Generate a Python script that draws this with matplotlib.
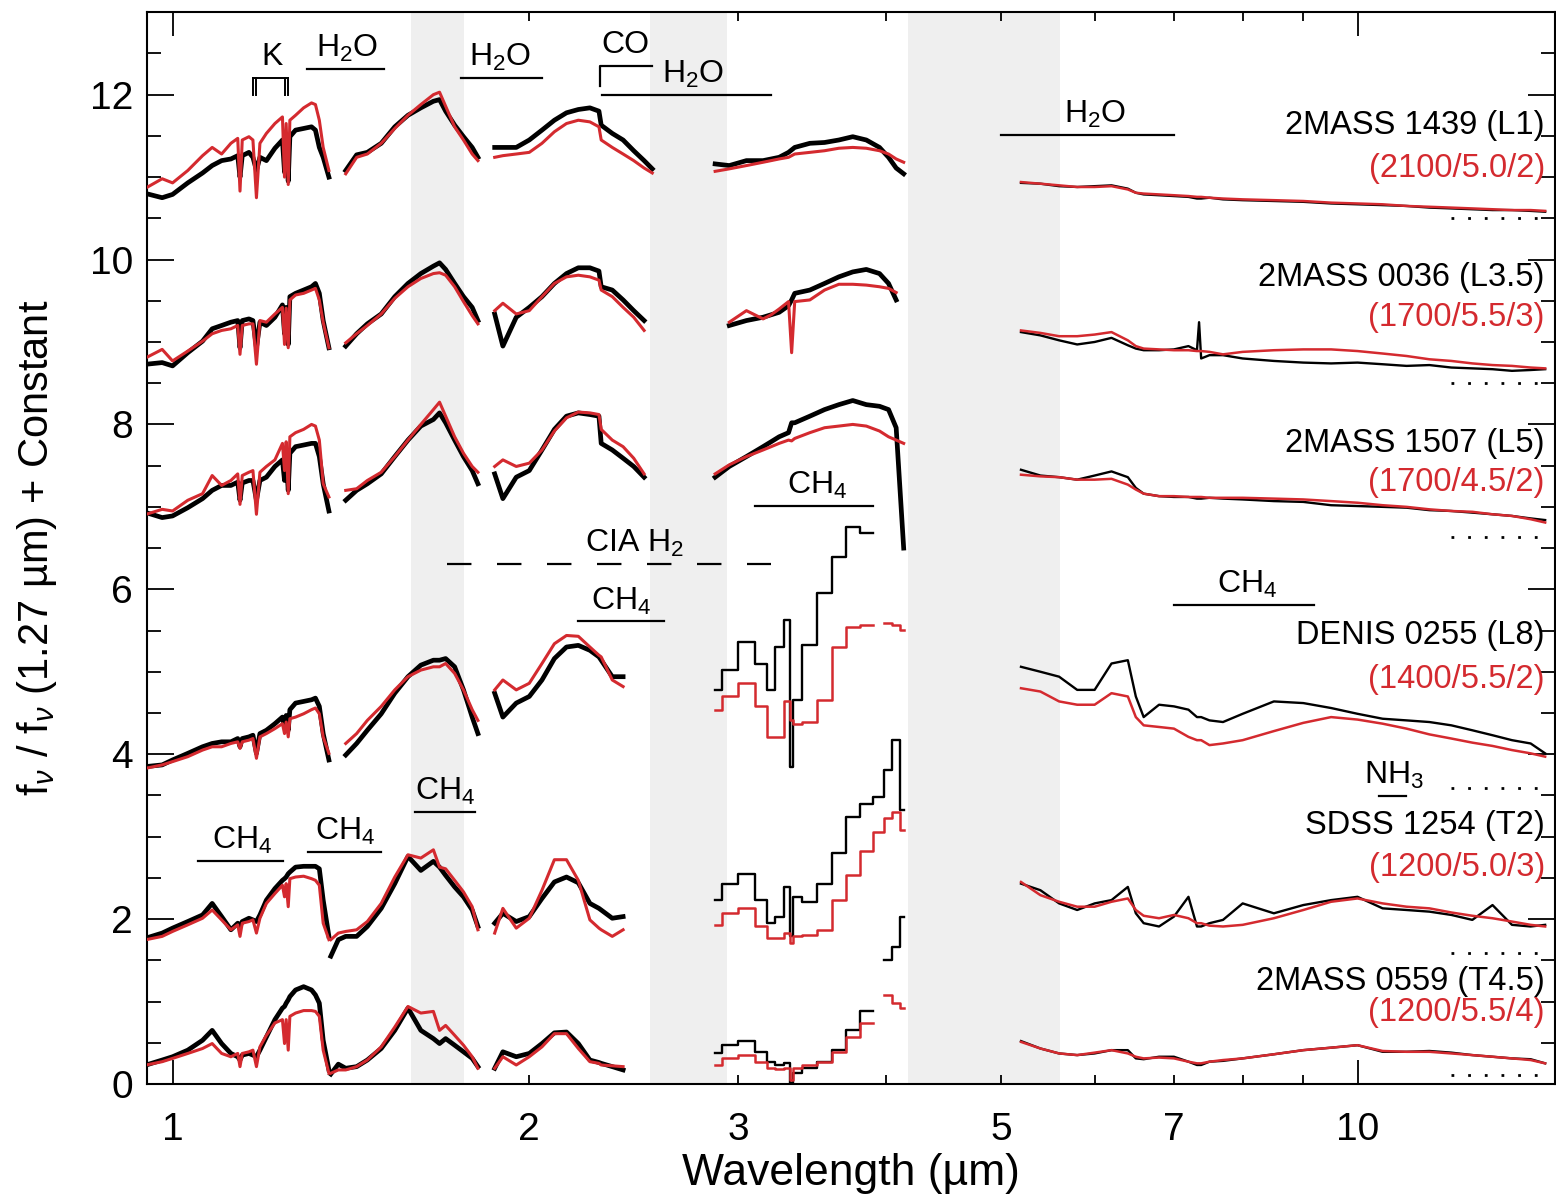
import numpy as np
import matplotlib
matplotlib.use("Agg")
import matplotlib.pyplot as plt
from matplotlib.ticker import FixedLocator, FixedFormatter, MultipleLocator

plt.rcParams['font.family'] = ['Liberation Sans', 'DejaVu Sans']
plt.rcParams['mathtext.fontset'] = 'custom'
plt.rcParams['mathtext.rm'] = 'Liberation Sans'
plt.rcParams['mathtext.it'] = 'Liberation Sans:italic'
plt.rcParams['mathtext.bf'] = 'Liberation Sans:bold'

nan = np.nan
RED = '#d42a2f'

# wavelength grids (micron) of the five pieces of each spectrum
wave_zj = [0.95, 0.98, 1.00, 1.03, 1.06, 1.08, 1.10, 1.12, 1.135, 1.140, 1.145, 1.16, 1.169, 1.177, 1.185,
           1.20, 1.22, 1.238, 1.243, 1.247, 1.252, 1.256, 1.27, 1.29, 1.31, 1.32, 1.33, 1.34, 1.355]
wave_h = [1.36, 1.38, 1.40, 1.43, 1.46, 1.50, 1.54, 1.58, 1.62, 1.66, 1.68, 1.70, 1.73, 1.76, 1.79, 1.81]
wave_k = [1.87, 1.90, 1.95, 2.00, 2.05, 2.10, 2.15, 2.20, 2.25, 2.29, 2.30, 2.35, 2.40, 2.45, 2.50, 2.54]
wave_l = [2.87, 2.95, 3.05, 3.15, 3.20, 3.25, 3.31, 3.33, 3.35, 3.45, 3.55, 3.65, 3.75, 3.85, 3.95, 4.02, 4.08, 4.14]
wave_mir = [5.2, 5.4, 5.6, 5.8, 6.0, 6.2, 6.4, 6.5, 6.6, 6.8, 7.0, 7.2, 7.32, 7.35, 7.38, 7.5, 7.7, 8.0, 8.5,
            9.0, 9.5, 10.0, 10.5, 11.0, 11.5, 12.0, 12.5, 13.0, 13.5, 14.0, 14.4]

# 2MASS 1439 (L1)
l1_obs_zj = [10.80, 10.75, 10.79, 10.93, 11.05, 11.14, 11.20, 11.22, 11.26, 11.00, 11.26, 11.30, 11.24, 11.08, 11.24,
             11.20, 11.35, 11.45, 11.06, 11.41, 10.95, 11.49, 11.57, 11.59, 11.61, 11.57, 11.36, 11.24, 11.00]
l1_mod_zj = [10.87, 10.98, 10.93, 11.08, 11.26, 11.36, 11.28, 11.41, 11.47, 10.83, 11.45, 11.49, 11.45, 10.75, 11.41,
             11.53, 11.65, 11.73, 11.00, 11.65, 10.91, 11.69, 11.75, 11.84, 11.90, 11.88, 11.69, 11.36, 11.08]
l1_obs_h = [nan, nan, 11.08, 11.27, 11.30, 11.41, 11.61, 11.75, 11.84, 11.92, 11.94, 11.80, 11.63, 11.49, 11.36, 11.24]
l1_mod_h = [nan, nan, 11.04, 11.24, 11.28, 11.41, 11.59, 11.75, 11.88, 12.00, 12.03, 11.86, 11.61, 11.45, 11.28, 11.20]
l1_obs_k = [11.36, 11.36, 11.36, 11.45, 11.57, 11.69, 11.78, 11.82, 11.84, 11.80, 11.63, 11.53, 11.45, 11.32, 11.20, 11.10]
l1_mod_k = [11.24, 11.26, 11.28, 11.30, 11.41, 11.55, 11.65, 11.69, 11.67, 11.61, 11.45, 11.36, 11.28, 11.20, 11.11, 11.05]
l1_obs_l = [11.16, 11.14, 11.20, 11.20, 11.22, 11.24, 11.30, 11.33, 11.36, 11.41, 11.42, 11.45, 11.49, 11.45, 11.36,
            11.24, 11.11, 11.04]
l1_mod_l = [11.07, 11.10, 11.14, 11.18, 11.20, 11.22, 11.24, 11.26, 11.28, 11.30, 11.32, 11.35, 11.36, 11.35, 11.32,
            11.28, 11.22, 11.18]
l1_obs_mir = [10.93, 10.92, 10.89, 10.88, 10.89, 10.90, 10.86, 10.81, 10.79, 10.78, 10.77, 10.76, 10.74, 10.74, 10.74,
              10.75, 10.73, 10.72, 10.71, 10.70, 10.68, 10.67, 10.66, 10.65, 10.63, 10.62, 10.61, 10.60, 10.60,
              10.59, 10.58]
l1_mod_mir = [10.94, 10.92, 10.90, 10.88, 10.88, 10.89, 10.85, 10.81, 10.80, 10.79, 10.78, 10.77, 10.76, 10.76, 10.76,
              10.75, 10.74, 10.73, 10.72, 10.71, 10.69, 10.68, 10.67, 10.65, 10.64, 10.63, 10.62, 10.61, 10.60,
              10.60, 10.59]

# 2MASS 0036 (L3.5)
l35_obs_zj = [8.73, 8.75, 8.71, 8.87, 9.01, 9.16, 9.20, 9.24, 9.26, 8.93, 9.26, 9.28, 9.26, 8.93, 9.24,
              9.20, 9.30, 9.45, 9.10, 9.42, 8.97, 9.55, 9.59, 9.63, 9.67, 9.71, 9.59, 9.26, 8.93]
l35_mod_zj = [8.81, 8.91, 8.77, 8.89, 9.01, 9.10, 9.14, 9.16, 9.20, 8.85, 9.20, 9.22, 9.22, 8.73, 9.26,
              9.24, 9.34, 9.42, 8.97, 9.41, 8.93, 9.51, 9.57, 9.59, 9.63, 9.65, 9.51, 9.24, 8.93]
l35_obs_h = [nan, nan, 8.95, 9.10, 9.22, 9.34, 9.55, 9.71, 9.83, 9.92, 9.96, 9.88, 9.71, 9.55, 9.42, 9.26]
l35_mod_h = [nan, nan, 8.99, 9.10, 9.20, 9.34, 9.53, 9.67, 9.77, 9.83, 9.84, 9.81, 9.67, 9.49, 9.32, 9.22]
l35_obs_k = [9.34, 8.95, 9.30, 9.42, 9.55, 9.71, 9.83, 9.90, 9.90, 9.86, 9.67, 9.63, 9.51, 9.38, 9.26, nan]
l35_mod_k = [9.38, 9.47, 9.34, 9.38, 9.55, 9.71, 9.79, 9.81, 9.79, 9.75, 9.63, 9.55, 9.42, 9.30, 9.14, nan]
l35_obs_l = [nan, 9.20, 9.26, 9.30, 9.33, 9.36, 9.44, 9.51, 9.59, 9.63, 9.71, 9.79, 9.85, 9.88, 9.83, 9.71, 9.51, nan]
l35_mod_l = [nan, 9.24, 9.38, 9.28, 9.33, 9.40, 9.49, 8.87, 9.49, 9.51, 9.63, 9.70, 9.70, 9.69, 9.67, 9.65, 9.60, nan]
l35_obs_mir = [9.12, 9.08, 9.02, 8.97, 9.00, 9.05, 8.96, 8.92, 8.90, 8.90, 8.91, 8.95, 8.90, 9.24, 8.80,
               8.84, 8.84, 8.80, 8.77, 8.75, 8.74, 8.75, 8.73, 8.71, 8.72, 8.69, 8.68, 8.67, 8.65, 8.66, 8.67]
l35_mod_mir = [9.14, 9.11, 9.07, 9.07, 9.09, 9.12, 9.02, 8.95, 8.92, 8.91, 8.90, 8.90, 8.89, 8.89, 8.89,
               8.88, 8.85, 8.88, 8.90, 8.91, 8.91, 8.89, 8.86, 8.83, 8.79, 8.77, 8.74, 8.72, 8.71, 8.69, 8.68]

# 2MASS 1507 (L5)
l5_obs_zj = [6.93, 6.87, 6.89, 6.99, 7.10, 7.20, 7.26, 7.26, 7.30, 7.08, 7.29, 7.32, 7.32, 7.08, 7.32,
             7.36, 7.49, 7.57, 7.32, 7.59, 7.20, 7.65, 7.73, 7.75, 7.77, 7.77, 7.61, 7.28, 6.95]
l5_mod_zj = [6.91, 6.97, 6.95, 7.08, 7.16, 7.38, 7.26, 7.32, 7.40, 7.03, 7.38, 7.42, 7.44, 6.91, 7.42,
             7.49, 7.57, 7.77, 7.44, 7.79, 7.16, 7.85, 7.90, 7.94, 8.00, 7.98, 7.81, 7.28, 7.12]
l5_obs_h = [nan, nan, 7.08, 7.20, 7.28, 7.40, 7.61, 7.81, 7.98, 8.06, 8.14, 8.02, 7.81, 7.61, 7.44, 7.28]
l5_mod_h = [nan, nan, 7.20, 7.22, 7.32, 7.42, 7.61, 7.81, 8.00, 8.18, 8.27, 8.10, 7.85, 7.65, 7.49, 7.42]
l5_obs_k = [7.40, 7.10, 7.36, 7.44, 7.69, 7.94, 8.10, 8.14, 8.12, 8.10, 7.77, 7.69, 7.59, 7.49, 7.36, nan]
l5_mod_k = [7.49, 7.57, 7.49, 7.53, 7.69, 7.92, 8.08, 8.15, 8.14, 8.12, 7.94, 7.81, 7.73, 7.59, 7.40, nan]
l5_obs_l = [7.36, 7.49, 7.61, 7.73, 7.79, 7.85, 7.90, 8.02, 8.02, 8.10, 8.18, 8.24, 8.29, 8.24, 8.22, 8.18, 7.96, 6.50]
l5_mod_l = [7.40, 7.51, 7.61, 7.69, 7.73, 7.77, 7.81, 7.80, 7.83, 7.90, 7.96, 7.98, 8.00, 7.98, 7.92, 7.85, 7.81, 7.77]
l5_obs_mir = [7.45, 7.38, 7.36, 7.33, 7.38, 7.43, 7.36, 7.23, 7.16, 7.13, 7.12, 7.12, 7.10, 7.10, 7.10,
              7.11, 7.10, 7.09, 7.07, 7.06, 7.02, 7.01, 7.00, 6.99, 6.96, 6.95, 6.93, 6.91, 6.89, 6.86, 6.84]
l5_mod_mir = [7.39, 7.37, 7.36, 7.33, 7.33, 7.34, 7.27, 7.21, 7.16, 7.13, 7.13, 7.12, 7.12, 7.12, 7.12,
              7.11, 7.11, 7.11, 7.10, 7.09, 7.07, 7.05, 7.02, 7.00, 6.97, 6.95, 6.94, 6.91, 6.89, 6.85, 6.81]

# DENIS 0255 (L8)
l8_obs_zj = [3.85, 3.87, 3.93, 4.01, 4.09, 4.13, 4.15, 4.15, 4.19, 4.09, 4.19, 4.21, 4.23, 4.01, 4.25,
             4.29, 4.37, 4.45, 4.33, 4.47, 4.29, 4.54, 4.62, 4.64, 4.66, 4.68, 4.58, 4.25, 3.93]
l8_mod_zj = [3.83, 3.87, 3.91, 3.97, 4.05, 4.09, 4.09, 4.13, 4.15, 4.07, 4.15, 4.17, 4.19, 3.95, 4.21,
             4.25, 4.31, 4.37, 4.25, 4.39, 4.21, 4.43, 4.45, 4.49, 4.54, 4.56, 4.49, 4.21, 4.01]
l8_obs_h = [nan, nan, 3.99, 4.13, 4.29, 4.49, 4.74, 4.94, 5.08, 5.14, 5.14, 5.16, 5.06, 4.78, 4.45, 4.25]
l8_mod_h = [nan, nan, 4.13, 4.25, 4.41, 4.58, 4.78, 4.94, 5.02, 5.06, 5.06, 5.10, 4.98, 4.78, 4.54, 4.41]
l8_obs_k = [4.74, 4.45, 4.62, 4.70, 4.90, 5.16, 5.30, 5.32, 5.26, 5.18, 5.14, 4.94, 4.94, nan, nan, nan]
l8_mod_k = [4.78, 4.90, 4.78, 4.86, 5.10, 5.34, 5.44, 5.43, 5.30, 5.20, 5.18, 4.90, 4.82, nan, nan, nan]
l8_obs_l = [4.78, 5.02, 5.36, 5.10, 4.78, 5.30, 5.63, 3.85, 4.66, 5.32, 5.95, 6.39, 6.76, 6.68, nan, nan, nan, nan]
l8_mod_l = [4.54, 4.70, 4.86, 4.58, 4.21, 4.21, 4.64, 4.41, 4.37, 4.39, 4.66, 5.30, 5.54, 5.57, nan, 5.59, 5.57, 5.51]
l8_obs_mir = [5.06, 5.00, 4.94, 4.78, 4.78, 5.10, 5.14, 4.70, 4.45, 4.60, 4.58, 4.54, 4.45, 4.45, 4.45,
              4.41, 4.39, 4.49, 4.64, 4.62, 4.56, 4.49, 4.43, 4.41, 4.39, 4.35, 4.29, 4.23, 4.17, 4.13, 4.01]
l8_mod_mir = [4.80, 4.76, 4.64, 4.60, 4.60, 4.74, 4.70, 4.45, 4.35, 4.33, 4.31, 4.21, 4.17, 4.17, 4.17,
              4.11, 4.13, 4.17, 4.28, 4.38, 4.45, 4.42, 4.37, 4.31, 4.24, 4.19, 4.14, 4.10, 4.05, 4.01, 3.97]

# SDSS 1254 (T2)
t2_obs_zj = [1.77, 1.83, 1.89, 1.97, 2.05, 2.19, 2.03, 1.87, 1.95, 1.91, 1.97, 2.01, 1.99, 1.97, 2.05,
             2.23, 2.37, 2.47, 2.49, 2.51, 2.55, 2.57, 2.63, 2.64, 2.64, 2.64, 2.61, 2.23, 1.79]
t2_mod_zj = [1.75, 1.79, 1.85, 1.93, 2.01, 2.11, 1.99, 1.87, 1.93, 1.79, 1.95, 1.97, 1.99, 1.83, 2.01,
             2.19, 2.31, 2.41, 2.27, 2.43, 2.15, 2.49, 2.51, 2.52, 2.49, 2.47, 2.41, 1.95, 1.75]
t2_obs_h = [1.55, 1.75, 1.79, 1.79, 1.91, 2.13, 2.43, 2.76, 2.59, 2.70, 2.63, 2.53, 2.39, 2.27, 2.11, 1.91]
t2_mod_h = [1.75, 1.83, 1.85, 1.87, 1.97, 2.19, 2.51, 2.78, 2.74, 2.84, 2.63, 2.61, 2.47, 2.33, 2.15, 1.87]
t2_obs_k = [1.95, 2.07, 1.97, 2.03, 2.25, 2.45, 2.51, 2.44, 2.19, 2.13, 2.11, 2.01, 2.03, nan, nan, nan]
t2_mod_k = [1.83, 2.13, 1.89, 2.01, 2.35, 2.72, 2.72, 2.47, 1.99, 1.89, 1.87, 1.79, 1.87, nan, nan, nan]
t2_obs_l = [2.23, 2.43, 2.55, 2.23, 1.95, 2.03, 2.39, 1.79, 2.27, 2.21, 2.43, 2.80, 3.24, 3.40, 3.48, 3.81, 4.17, 3.32]
t2_mod_l = [1.93, 2.07, 2.13, 1.91, 1.77, 1.77, 1.83, 1.71, 1.79, 1.81, 1.87, 2.23, 2.53, 2.82, 3.06, 3.22, 3.30, 3.08]
t2_obs_mir = [2.43, 2.35, 2.19, 2.11, 2.19, 2.23, 2.39, 2.07, 1.95, 1.91, 2.03, 2.27, 1.91, 1.91, 1.91,
              1.95, 1.99, 2.19, 2.07, 2.17, 2.23, 2.27, 2.13, 2.11, 2.09, 2.05, 1.99, 2.17, 1.93, 1.91, 1.93]
t2_mod_mir = [2.45, 2.29, 2.21, 2.15, 2.15, 2.21, 2.25, 2.11, 2.04, 2.01, 2.05, 2.01, 1.95, 1.95, 1.95,
              1.92, 1.91, 1.93, 2.01, 2.11, 2.21, 2.25, 2.19, 2.15, 2.13, 2.08, 2.04, 2.01, 1.97, 1.93, 1.91]

# 2MASS 0559 (T4.5)
t45_obs_zj = [0.23, 0.29, 0.33, 0.41, 0.53, 0.65, 0.49, 0.37, 0.33, 0.29, 0.35, 0.37, 0.35, 0.33, 0.41,
              0.57, 0.78, 0.92, 0.94, 0.98, 1.02, 1.06, 1.14, 1.18, 1.14, 1.08, 0.98, 0.53, 0.17]
t45_mod_zj = [0.23, 0.27, 0.31, 0.37, 0.43, 0.49, 0.37, 0.33, 0.37, 0.21, 0.37, 0.39, 0.41, 0.21, 0.45,
              0.59, 0.74, 0.78, 0.49, 0.78, 0.41, 0.82, 0.86, 0.89, 0.89, 0.88, 0.82, 0.41, 0.13]
t45_obs_h = [0.12, 0.24, 0.19, 0.21, 0.29, 0.43, 0.65, 0.92, 0.65, 0.55, 0.49, 0.55, 0.47, 0.39, 0.31, 0.21]
t45_mod_h = [0.13, 0.17, 0.17, 0.21, 0.29, 0.45, 0.69, 0.94, 0.86, 0.88, 0.65, 0.71, 0.59, 0.47, 0.33, 0.19]
t45_obs_k = [0.19, 0.39, 0.33, 0.37, 0.49, 0.62, 0.63, 0.49, 0.29, 0.26, 0.25, 0.21, 0.17, nan, nan, nan]
t45_mod_k = [0.19, 0.33, 0.23, 0.33, 0.45, 0.61, 0.61, 0.43, 0.27, 0.25, 0.23, 0.22, 0.21, nan, nan, nan]
t45_obs_l = [0.37, 0.47, 0.52, 0.39, 0.27, 0.23, 0.25, 0.01, 0.13, 0.19, 0.27, 0.41, 0.65, 0.88, nan, 1.50, 1.66, 2.03]
t45_mod_l = [0.23, 0.31, 0.35, 0.27, 0.19, 0.18, 0.19, 0.05, 0.19, 0.23, 0.27, 0.39, 0.57, 0.74, nan, 1.08, 0.98, 0.92]
t45_obs_mir = [0.52, 0.43, 0.37, 0.35, 0.37, 0.41, 0.41, 0.31, 0.30, 0.33, 0.33, 0.27, 0.23, 0.23, 0.23,
               0.27, 0.28, 0.31, 0.36, 0.41, 0.44, 0.47, 0.39, 0.39, 0.40, 0.38, 0.35, 0.33, 0.31, 0.30, 0.25]
t45_mod_mir = [0.51, 0.43, 0.37, 0.35, 0.38, 0.41, 0.37, 0.33, 0.31, 0.32, 0.31, 0.27, 0.25, 0.25, 0.25,
               0.27, 0.29, 0.31, 0.36, 0.41, 0.44, 0.47, 0.40, 0.39, 0.39, 0.37, 0.35, 0.33, 0.31, 0.29, 0.25]

star_names = ['2MASS 1439 (L1)', '2MASS 0036 (L3.5)', '2MASS 1507 (L5)',
              'DENIS 0255 (L8)', 'SDSS 1254 (T2)', '2MASS 0559 (T4.5)']
model_params = ['(2100/5.0/2)', '(1700/5.5/3)', '(1700/4.5/2)',
                '(1400/5.5/2)', '(1200/5.0/3)', '(1200/5.5/4)']
zero_levels = [10.50, 8.50, 6.64, 3.59, 1.59, 0.11]

# (label, x0, x1, y) of the absorption band markers
band_marks = [('H$_2$O', 1.299, 1.508, 12.31), ('H$_2$O', 1.752, 2.05, 12.20),
              ('H$_2$O', 2.302, 3.198, 12.00), ('H$_2$O', 5.003, 7.0, 11.51),
              ('CH$_4$', 3.10, 3.90, 7.01), ('CH$_4$', 2.199, 2.598, 5.61),
              ('CH$_4$', 7.0, 9.19, 5.81), ('NH$_3$', 10.43, 10.99, 3.49),
              ('CH$_4$', 1.051, 1.24, 2.70), ('CH$_4$', 1.301, 1.499, 2.81),
              ('CH$_4$', 1.602, 1.80, 3.30)]
label_x = [1.404, 1.889, 2.749, 6.0, 3.50, 2.393, 8.07, 10.74, 1.145, 1.398, 1.698]
k_lines = [1.169, 1.177, 1.243, 1.252]
gaps = [(1.590, 1.762), (2.529, 2.937), (4.176, 5.61)]

obs = [[l1_obs_zj, l1_obs_h, l1_obs_k, l1_obs_l, l1_obs_mir],
       [l35_obs_zj, l35_obs_h, l35_obs_k, l35_obs_l, l35_obs_mir],
       [l5_obs_zj, l5_obs_h, l5_obs_k, l5_obs_l, l5_obs_mir],
       [l8_obs_zj, l8_obs_h, l8_obs_k, l8_obs_l, l8_obs_mir],
       [t2_obs_zj, t2_obs_h, t2_obs_k, t2_obs_l, t2_obs_mir],
       [t45_obs_zj, t45_obs_h, t45_obs_k, t45_obs_l, t45_obs_mir]]
mod = [[l1_mod_zj, l1_mod_h, l1_mod_k, l1_mod_l, l1_mod_mir],
       [l35_mod_zj, l35_mod_h, l35_mod_k, l35_mod_l, l35_mod_mir],
       [l5_mod_zj, l5_mod_h, l5_mod_k, l5_mod_l, l5_mod_mir],
       [l8_mod_zj, l8_mod_h, l8_mod_k, l8_mod_l, l8_mod_mir],
       [t2_mod_zj, t2_mod_h, t2_mod_k, t2_mod_l, t2_mod_mir],
       [t45_mod_zj, t45_mod_h, t45_mod_k, t45_mod_l, t45_mod_mir]]
grids = [wave_zj, wave_h, wave_k, wave_l, wave_mir]

fig = plt.figure(figsize=(15.56, 11.98), dpi=100)
ax = fig.add_axes([0.0945, 0.0952, 0.9049, 0.8946])
ax.set_xscale('log')
ax.set_xlim(0.9516, 14.68)
ax.set_ylim(0, 13.0)

for a, b in gaps:
    ax.axvspan(a, b, color='#efefef', lw=0, zorder=0)

for i in range(6):
    for j, w in enumerate(grids):
        steps = 'steps-mid' if (j == 3 and i >= 3) else 'default'
        if j < 3 or (j == 3 and i < 3):
            lw_obs, lw_mod = 3.4, 2.2
        else:
            lw_obs, lw_mod = 1.7, 1.8
        ax.plot(w, obs[i][j], color='black', lw=lw_obs, drawstyle=steps, zorder=2)
        ax.plot(w, mod[i][j], color=RED, lw=lw_mod, drawstyle=steps, zorder=3)
    ax.plot([12.0, 14.3], [zero_levels[i]] * 2, color='black', lw=2.0, ls=(0, (1, 5)))

name_y = [11.63, 9.785, 7.77, 5.44, 3.14, 1.24]
param_y = [11.10, 9.30, 7.29, 4.90, 2.63, 0.87]
for i in range(6):
    ax.text(14.39, name_y[i], star_names[i], ha='right', va='center', fontsize=23.5, color='black')
    ax.text(14.39, param_y[i], model_params[i], ha='right', va='center', fontsize=23.5, color=RED)

for (lab, x0, x1, y), tx in zip(band_marks, label_x):
    ax.plot([x0, x1], [y, y], color='black', lw=1.6)
    ax.text(tx, y + 0.06, lab, ha='center', va='bottom', fontsize=23)

# K I doublets
for xk in k_lines:
    ax.plot([xk, xk], [12.0, 12.2], color='black', lw=1.4)
ax.plot([k_lines[0], k_lines[-1]], [12.2, 12.2], color='black', lw=1.4)
ax.text(1.213, 12.28, 'K', ha='center', va='bottom', fontsize=23)

# CO bandhead
ax.plot([2.295, 2.295, 2.539], [12.10, 12.35, 12.35], color='black', lw=1.6)
ax.text(2.41, 12.42, 'CO', ha='center', va='bottom', fontsize=23)

# collision induced H2
ax.plot([1.704, 3.2], [6.305, 6.305], color='black', lw=1.6, dashes=(11, 11.5))
ax.text(2.453, 6.37, 'CIA H$_2$', ha='center', va='bottom', fontsize=23)

ax.xaxis.set_major_locator(FixedLocator([1, 10]))
ax.xaxis.set_major_formatter(FixedFormatter(['1', '10']))
ax.xaxis.set_minor_locator(FixedLocator([2, 3, 4, 5, 6, 7, 8, 9]))
ax.xaxis.set_minor_formatter(FixedFormatter(['2', '3', '', '5', '', '7', '', '']))
ax.yaxis.set_major_locator(MultipleLocator(2))
ax.yaxis.set_minor_locator(MultipleLocator(0.5))

ax.tick_params(which='both', direction='in', top=True, right=True, width=1.3, labelsize=28, colors='black')
ax.tick_params(axis='x', which='major', length=17, pad=20)
ax.tick_params(axis='x', which='minor', length=6.5, pad=20)
ax.tick_params(axis='y', which='major', length=19.5, pad=10)
ax.tick_params(axis='y', which='minor', length=10)
for s in ax.spines.values():
    s.set_linewidth(1.5)

ax.set_xlabel('Wavelength (µm)', fontsize=32, labelpad=4)
ax.set_ylabel(r'f$_\nu$ / f$_\nu$ (1.27 µm) + Constant', fontsize=30, labelpad=22)

fig.canvas.draw()
ax.get_yticklabels()[0].set_va('bottom')

fig.savefig('out.png', dpi=100)
